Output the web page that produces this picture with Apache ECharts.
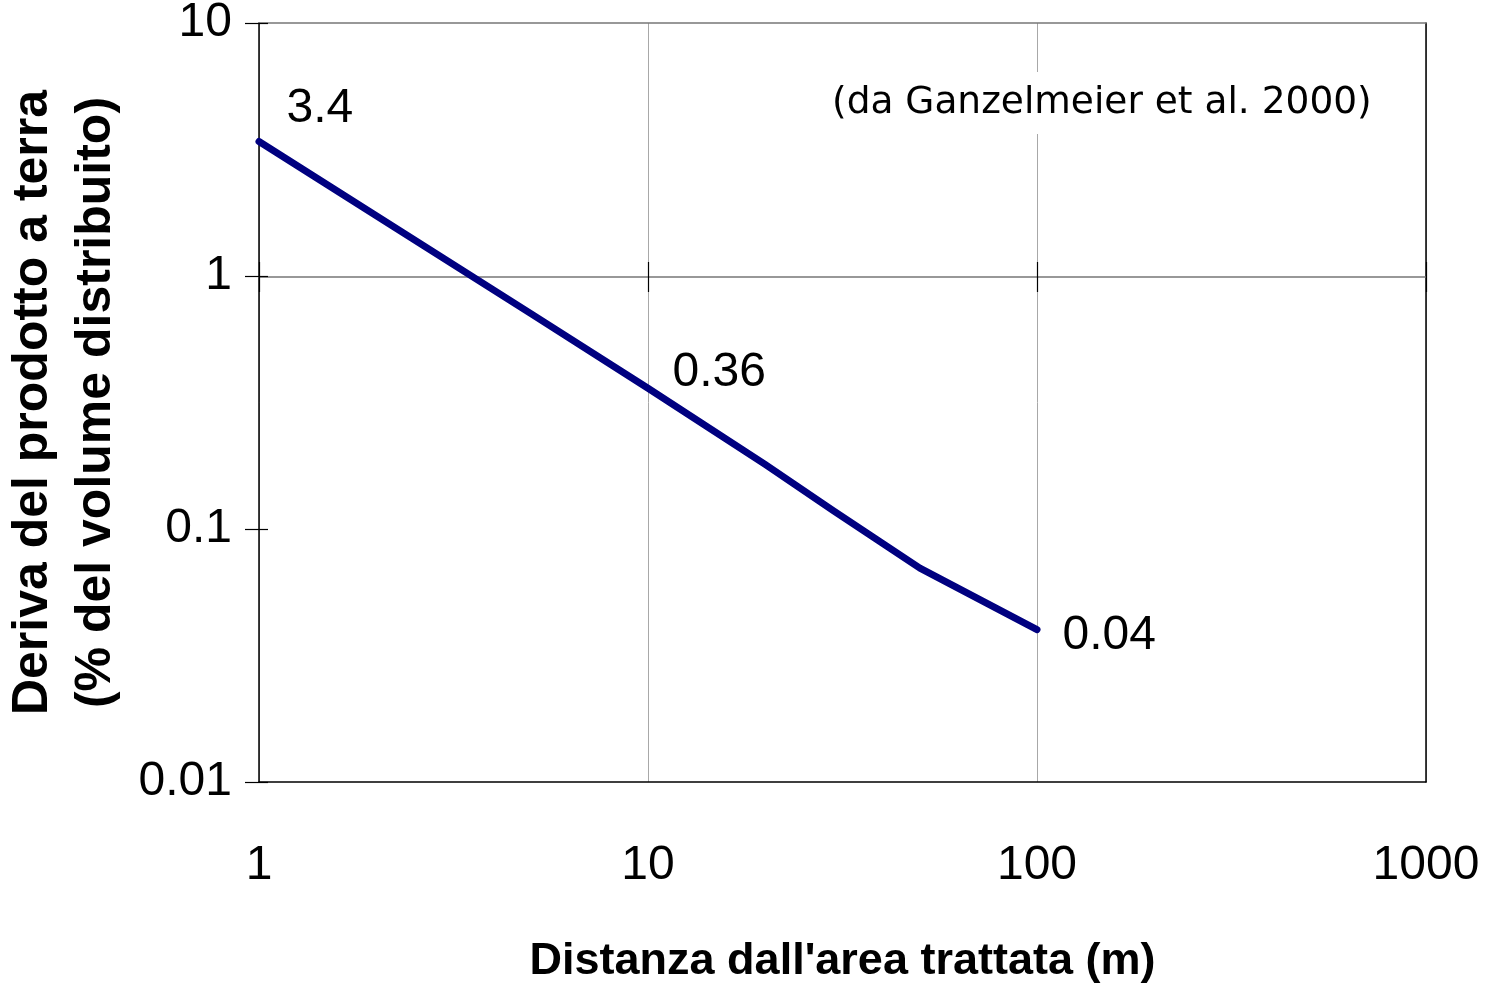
<!DOCTYPE html>
<html>
<head>
<meta charset="utf-8">
<script src="https://cdn.jsdelivr.net/npm/echarts@6/dist/echarts.min.js"></script>
<style>html,body{margin:0;padding:0;background:#fff;}#c{width:1485px;height:990px;}</style>
</head>
<body>
<div id="c"></div>
<script>
const distances = [1, 5, 10, 20, 30, 50, 100];
const drift = [3.4, 0.71, 0.36, 0.18, 0.118, 0.07, 0.04];
const labelledValues = ['3.4', '0.36', '0.04'];
const labelledIndex = [0, 2, 6];
const xTicks = [1, 10, 100, 1000];
const yTicks = [0.01, 0.1, 1, 10];
const xTitle = "Distanza dall'area trattata (m)";
const yTitle = "Deriva del prodotto a terra\n(% del volume distribuito)";
const note = "(da Ganzelmeier et al. 2000)";

const FONT = '"Liberation Sans", Arial, sans-serif';
const labelOffsets = [[27, -33], [24, -15], [25, 6]];

const seriesData = distances.map((d, i) => {
  const item = { value: [d, drift[i]] };
  const k = labelledIndex.indexOf(i);
  if (k >= 0) {
    item.label = {
      show: true, position: 'right', distance: 0,
      formatter: labelledValues[k], offset: labelOffsets[k]
    };
  }
  return item;
});

const fmt = v => {
  const n = Number(v);
  const found = yTicks.concat(xTicks).find(t => Math.abs(t - n) / t < 1e-6);
  return found !== undefined ? String(found) : '';
};

const chart = echarts.init(document.getElementById('c'), null, { renderer: 'canvas' });
chart.setOption({
  backgroundColor: '#fff',
  animation: false,
  title: {
    text: note, left: 826, top: 72,
    backgroundColor: '#fff', padding: [12, 6],
    textStyle: { fontFamily: '"DejaVu Sans", Verdana, sans-serif', fontWeight: 'normal', fontSize: 37.5, color: '#000' }
  },
  grid: { left: 259, right: 59, top: 23, bottom: 208, containLabel: false, outerBoundsMode: 'none' },
  xAxis: [
    {
      type: 'log', logBase: 10, min: 1, max: 1000, position: 'bottom',
      name: xTitle, nameLocation: 'middle', nameGap: 180,
      nameTextStyle: { fontFamily: FONT, fontWeight: 'bold', fontSize: 45, color: '#000', verticalAlign: 'middle' },
      axisLine: { show: true, lineStyle: { color: '#000', width: 1.5 } },
      axisTick: { show: false },
      axisLabel: { margin: 84, verticalAlign: 'middle', fontFamily: FONT, fontSize: 48, color: '#000', formatter: fmt },
      splitLine: { show: true, lineStyle: { color: '#a8a8a8', width: 1 } },
      minorTick: { show: false }, minorSplitLine: { show: false }
    },
    {
      type: 'log', logBase: 10, min: 1, max: 1000, position: 'bottom', offset: -505,
      axisLine: { show: true, lineStyle: { color: '#777', width: 1.5 } },
      axisTick: { show: true, inside: false, length: 15, lineStyle: { color: '#000', width: 1.2 } },
      axisLabel: { show: false }, splitLine: { show: false }
    },
    {
      type: 'log', logBase: 10, min: 1, max: 1000, position: 'bottom', offset: -505,
      axisLine: { show: false },
      axisTick: { show: true, inside: true, length: 15, lineStyle: { color: '#000', width: 1.2 } },
      axisLabel: { show: false }, splitLine: { show: false }
    },
    {
      type: 'log', logBase: 10, min: 1, max: 1000, position: 'top',
      axisLine: { show: true, lineStyle: { color: '#777', width: 1.5 } },
      axisTick: { show: false }, axisLabel: { show: false }, splitLine: { show: false }
    }
  ],
  yAxis: [
    {
      type: 'log', logBase: 10, min: 0.01, max: 10, position: 'left',
      name: yTitle, nameLocation: 'middle', nameGap: 187, nameRotate: 90,
      nameTextStyle: { fontFamily: FONT, fontWeight: 'bold', fontSize: 50, lineHeight: 63, color: '#000', verticalAlign: 'middle', align: 'center' },
      axisLine: { show: true, lineStyle: { color: '#000', width: 1.5 } },
      axisTick: { show: true, inside: false, length: 14, lineStyle: { color: '#000', width: 1.2 } },
      axisLabel: { margin: 27, fontFamily: FONT, fontSize: 48, color: '#000', formatter: fmt },
      splitLine: { show: false }
    },
    {
      type: 'log', logBase: 10, min: 0.01, max: 10, position: 'left',
      axisLine: { show: false },
      axisTick: { show: true, inside: true, length: 9, lineStyle: { color: '#000', width: 1.2 } },
      axisLabel: { show: false }, splitLine: { show: false }
    },
    {
      type: 'log', logBase: 10, min: 0.01, max: 10, position: 'right',
      axisLine: { show: true, lineStyle: { color: '#000', width: 1.5 } },
      axisTick: { show: false }, axisLabel: { show: false }, splitLine: { show: false }
    }
  ],
  series: [{
    type: 'line',
    xAxisIndex: 0, yAxisIndex: 0,
    data: seriesData,
    showSymbol: true, symbol: 'circle', symbolSize: 1,
    itemStyle: { color: '#000080' },
    lineStyle: { color: '#000080', width: 7, cap: 'round', join: 'round' },
    label: { show: false, fontFamily: FONT, fontSize: 48, color: '#000' },
    emphasis: { disabled: true },
    z: 5
  }]
});
</script>
</body>
</html>
